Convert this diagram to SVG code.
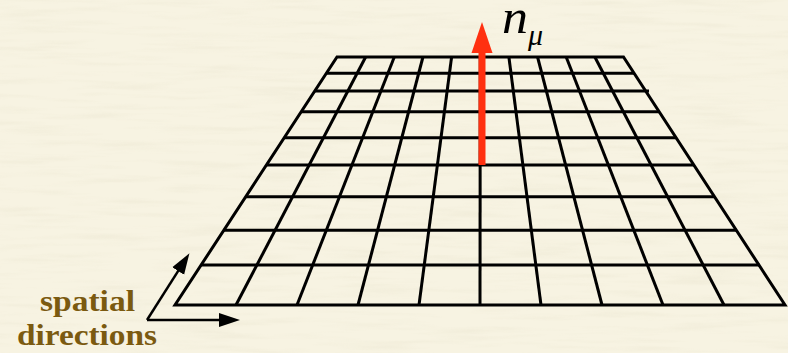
<svg xmlns="http://www.w3.org/2000/svg" width="788" height="353" viewBox="0 0 788 353">
  <style>
    .grid { fill: none; stroke: #000; stroke-width: 3; stroke-linejoin: miter; }
    .axis { stroke: #000; stroke-width: 2.5; fill: none; marker-end: url(#ah); }
    .lbl { font-family: "Liberation Serif", "Times New Roman", serif; font-weight: bold; font-size: 30px; fill: #7b5a10; }
    .math { font-family: "Liberation Serif", "Times New Roman", serif; font-style: italic; fill: #000; }
  </style>
  <defs>
    <filter id="paper" x="0" y="0" width="100%" height="100%">
      <feTurbulence type="fractalNoise" baseFrequency="0.012 0.15" numOctaves="3" seed="7" result="n"/>
      <feColorMatrix in="n" type="matrix" values="0 0 0 0 0.80  0 0 0 0 0.76  0 0 0 0 0.60  1.6 0 0 0 -0.75"/>
    </filter>
    <marker id="ah" markerUnits="userSpaceOnUse" markerWidth="22" markerHeight="16" refX="1" refY="8" orient="auto" viewBox="0 0 22 16">
      <path d="M0,1 L21,8 L0,15 z" fill="#000"/>
    </marker>
  </defs>

  <g id="background">
    <rect width="788" height="353" fill="#f7f3e2"/>
    <rect width="788" height="353" filter="url(#paper)" opacity="0.5"/>
  </g>

  <g id="lattice">
    <polygon class="grid" points="337,57 623.5,57 785,305 175,305"/>
    <g class="grid">
      <line x1="326.4" y1="73.3" x2="634.1" y2="73.3"/>
      <line x1="314.8" y1="91" x2="649" y2="91"/>
      <line x1="301.3" y1="111.7" x2="659.2" y2="111.7"/>
      <line x1="284.3" y1="137.7" x2="676.2" y2="137.7"/>
      <line x1="266.5" y1="165" x2="694" y2="165"/>
      <line x1="245.7" y1="196.7" x2="714.8" y2="196.7"/>
      <line x1="223.8" y1="230.3" x2="736.7" y2="230.3"/>
      <line x1="201.1" y1="265" x2="759.4" y2="265"/>
      <line x1="365.65" y1="57" x2="236" y2="305"/>
      <line x1="394.3" y1="57" x2="297" y2="305"/>
      <line x1="422.95" y1="57" x2="358" y2="305"/>
      <line x1="451.6" y1="57" x2="419" y2="305"/>
      <line x1="480.25" y1="57" x2="480" y2="305"/>
      <line x1="508.9" y1="57" x2="541" y2="305"/>
      <line x1="537.55" y1="57" x2="602" y2="305"/>
      <line x1="566.2" y1="57" x2="663" y2="305"/>
      <line x1="594.85" y1="57" x2="724" y2="305"/>
    </g>
  </g>

  <g id="normal-vector">
    <rect x="478.5" y="52" width="7" height="113" fill="#ff3010"/>
    <polygon points="471.5,53 492.5,53 482,22" fill="#ff3010"/>
  </g>

  <g id="normal-label">
    <text class="math" x="502" y="33" font-size="48" textLength="26" lengthAdjust="spacingAndGlyphs">n</text>
    <text class="math" x="528" y="45" font-size="30">μ</text>
  </g>

  <g id="connectors">
    <line class="axis" x1="147" y1="320" x2="220" y2="320"/>
    <line class="axis" x1="147" y1="320" x2="178.7" y2="270.2"/>
  </g>

  <g id="axes-label">
    <text class="lbl" x="40" y="311" textLength="95" lengthAdjust="spacingAndGlyphs">spatial</text>
    <text class="lbl" x="17" y="345" textLength="140" lengthAdjust="spacingAndGlyphs">directions</text>
  </g>
</svg>
